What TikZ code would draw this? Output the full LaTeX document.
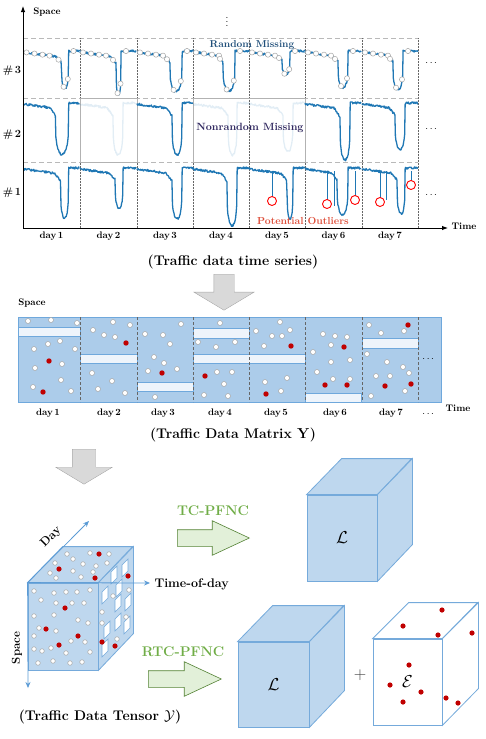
\documentclass[tikz,border=0pt]{standalone}
\usepackage{amsmath}
\usepackage{amssymb}
\usepackage{xcolor}
\usepackage{tikz}
\usetikzlibrary{shapes, arrows.meta, positioning, calc}

\definecolor{seriesblue}{RGB}{31,119,180}
\definecolor{rmblue}{RGB}{31,78,121}
\definecolor{nrmpurple}{RGB}{48,40,95}
\definecolor{outred}{RGB}{222,80,60}
\definecolor{matfill}{RGB}{172,204,234}
\definecolor{matedge}{RGB}{111,168,220}
\definecolor{barfill}{RGB}{238,244,251}
\definecolor{cubefill}{RGB}{190,215,238}
\definecolor{cubeedge}{RGB}{117,170,219}
\definecolor{axisblue}{RGB}{91,155,213}
\definecolor{dotred}{RGB}{192,0,0}
\definecolor{pfncgreen}{RGB}{112,173,71}
\definecolor{arrgreen}{RGB}{84,130,53}
\definecolor{arrgreenfill}{RGB}{226,240,217}

% one day of speed data: style, x0, level, dip start, dip end, dip depth
\newcommand{\tsday}[6]{%
  \draw[#1] plot[domain=0:56, samples=110] ({#2+\x}, {#3 + (\x<#4-6 ? 0.14*\x : (\x<#4 ? 0.14*\x + 0.025*#6*(\x-#4+6) : (\x<#5 ? 0.14*#4 + 0.15*#6 + 0.85*#6*(abs(sin(180*(\x-#4)/(#5-#4)))+0.001)^0.25 : -1))) + 1.1*rand});
}
% missing points on one day: x0, level, dip start, dip end, dip depth
\newcommand{\missday}[5]{%
  \foreach \u in {3,11,19,26} {\filldraw[miss] ({#1+\u},{#2+0.14*\u}) circle[radius=2.6pt];}
  \filldraw[miss] ({#1+#3-3},{#2+0.14*#3+0.075*#5}) circle[radius=2.6pt];
  \filldraw[miss] ({#1+#3+0.3*(#4-#3)},{#2+0.14*#3+0.95*#5}) circle[radius=2.6pt];
  \filldraw[miss] ({#1+#4-0.1*(#4-#3)},{#2+0.14*#3+0.7*#5}) circle[radius=2.6pt];
  \filldraw[miss] ({#1+#4+5},{#2-1}) circle[radius=2.6pt];
}

\begin{document}
\begin{tikzpicture}[x=1pt, y=-1pt,
  series/.style={seriesblue, line width=1.3pt, line join=round},
  faded/.style={series, opacity=0.13},
  miss/.style={fill=white, draw=gray!70, line width=0.5pt},
  reddot/.style={fill=dotred},
  lab/.style={font=\bfseries\fontsize{9.5}{11}\selectfont},
  captext/.style={font=\bfseries\fontsize{14}{16}\selectfont},
  rowlab/.style={font=\bfseries\fontsize{11}{13}\selectfont},
  guide/.style={gray!55, dash pattern=on 5pt off 3pt, line width=0.8pt},
  daysep/.style={black!60, densely dotted, line width=0.5pt},
  axis/.style={line width=0.9pt, -{Latex[length=6pt, width=4.5pt]}},
  bar/.style={fill=barfill, draw=matedge, line width=0.8pt},
  face/.style={fill=cubefill, draw=cubeedge, line width=0.8pt, inner sep=0pt},
  hole/.style={fill=white, draw=cubeedge, line width=0.6pt},
  tenaxis/.style={axisblue, line width=0.8pt, -{Stealth[length=6pt, width=5pt]}},
  bigarrow/.style={single arrow, draw=gray!70, fill=gray!30, inner xsep=0pt, rotate=-90, anchor=tail, single arrow tip angle=118},
  greenarrow/.style={single arrow, draw=arrgreen, fill=arrgreenfill, inner xsep=0pt, inner ysep=8pt, line width=0.6pt, anchor=tail, single arrow tip angle=50, single arrow head extend=9pt},
  pfnc/.style={pfncgreen, font=\bfseries\fontsize{14}{16}\selectfont},
]
\useasboundingbox (0,0) rectangle (485,739);
\pgfmathsetseed{7}

% ---------- time series panel ----------
\foreach \yy in {38,98,162} {\draw[guide] (23,\yy) -- (418,\yy);}
\foreach \xx in {80,137,193,249,305,362,418} {\draw[daysep] (\xx,38) -- (\xx,228);}
\draw[gray!60, line width=0.5pt] (80,98) rectangle (137,162);
\draw[gray!60, line width=0.5pt] (193,98) rectangle (305,162);

% row #3
\tsday{series}{23.5}{52}{38}{45}{31}
\tsday{series}{80}{52}{36}{41}{38}
\tsday{series}{137}{52}{33}{45}{35}
\tsday{series}{193}{52}{30}{42}{35}
\tsday{series}{249}{52}{33}{41}{18}
\tsday{series}{305}{52}{33}{43}{31}
\tsday{series}{362}{52}{31}{41}{33}
\missday{23.5}{52}{38}{45}{31}
\missday{80}{52}{36}{41}{38}
\missday{137}{52}{33}{45}{35}
\missday{193}{52}{30}{42}{35}
\missday{249}{52}{33}{41}{18}
\missday{305}{52}{33}{43}{31}
\missday{362}{52}{31}{41}{33}
% row #2
\tsday{series}{23.5}{104}{32}{45}{46}
\tsday{faded}{80}{104}{33}{43}{46}
\tsday{series}{137}{104}{35}{45}{46}
\tsday{faded}{193}{104}{35}{44}{46}
\tsday{faded}{249}{104}{34}{44}{43}
\tsday{series}{305}{104}{35}{45}{51}
\tsday{series}{362}{104}{33}{43}{41}
% row #1
\tsday{series}{23.5}{169}{37}{45}{44}
\tsday{series}{80}{169}{35}{43}{34}
\tsday{series}{137}{169}{35}{45}{45}
\tsday{series}{193}{169}{34}{44}{52}
\tsday{series}{249}{169}{38}{44}{45}
\tsday{series}{305}{169}{32}{43}{41}
\tsday{series}{362}{169}{35}{43}{40}
\foreach \ox/\oy in {272/201, 327/204, 355/200, 380/202, 411/185} {
  \draw[series, line width=1pt] (\ox,171) -- (\ox,\oy-4);
  \draw[red, line width=0.9pt] (\ox,\oy) circle[radius=4.5pt];
}
\draw[series, line width=1pt] (334,171) -- (334,206);
\draw[series, line width=1pt] (386,171) -- (386,200);

\coordinate (O) at (23,228);
\coordinate (ytop) at (23,6);
\coordinate (xend) at (448,228);
\draw[axis] (O) -- (ytop);
\draw[axis] (O) -- (xend);
\node[lab] (tsspace) at (47,12) {Space};
\node[lab] (tstime) at (464,226) {Time};
\node (tsvdots) at (227,19) {$\vdots$};
\node[rowlab] (row3) at (12,71) {\#\,3};
\node[rowlab] (row2) at (12,135) {\#\,2};
\node[rowlab] (row1) at (12,193) {\#\,1};
\foreach \yy in {63,129,195} {\node at (432,\yy) {$\cdots$};}
\foreach \d/\xx in {1/51.5, 2/108.5, 3/165, 4/221, 5/277, 6/333.5, 7/390} {\node[lab] (tsday\d) at (\xx,236) {day\,\d};}
\node[rmblue, font=\bfseries\fontsize{10}{12}\selectfont] (rmiss) at (252,45) {Random Missing};
\node[nrmpurple, font=\bfseries\fontsize{10.5}{12}\selectfont] (nrmiss) at (250,128) {Nonrandom Missing};
\node[outred, font=\bfseries\fontsize{10.2}{12}\selectfont] (outl) at (303,221) {Potential Outliers};
\node[captext] (tscap) at (233,262) {(Traffic data time series)};

\node[bigarrow, minimum height=36pt, inner ysep=10pt, single arrow head extend=20pt] (arrow1) at (224,274) {};

% ---------- matrix ----------
\node[lab] (matspace) at (32,303) {Space};
\node[fill=matfill, draw=matedge, line width=0.8pt, minimum width=423pt, minimum height=85pt, anchor=north west, inner sep=0pt] (Ymat) at (18,317) {};
\draw[bar] (18,327) rectangle (80,336);
\draw[bar] (80,354) rectangle (137,363);
\draw[bar] (137,382) rectangle (193,391);
\draw[bar] (193,328) rectangle (249,338);
\draw[bar] (193,354) rectangle (305,363);
\draw[bar] (305,393) rectangle (361,402);
\draw[bar] (362,338) rectangle (418,348);
\foreach \xx in {80,137,193,249,305,362,418} {\draw[black!60, densely dashed, line width=0.5pt] (\xx,317) -- (\xx,402);}
\foreach \px/\py in {28/321, 51/320, 77/323, 34/349, 48/344, 60/341, 75/349, 35/368, 62/364, 61/380, 33/387, 71/391,
  113/322, 130/325, 93/330, 104/335, 115/337, 92/373, 112/381, 98/389, 125/393,
  181/324, 145/334, 163/335, 170/344, 154/357, 164/363, 148/371, 177/369, 155/397,
  220/323, 198/342, 216/347, 235/342, 217/372, 232/372, 224/384, 204/395, 228/396,
  280/322, 256/331, 272/336, 282/336, 290/330, 264/346, 287/378, 265/382, 281/391,
  323/334, 335/336, 347/337, 313/352, 331/345, 350/360, 331/362, 317/372, 333/379, 350/379,
  369/325, 381/333, 404/331, 367/354, 387/362, 403/367, 376/376, 390/376, 409/373, 405/391, 371/396}
  {\filldraw[miss] (\px,\py) circle[radius=2.5pt];}
\foreach \px/\py in {49/361, 43/392, 126/343, 162/373, 205/376, 291/346, 266/394, 344/347, 325/385, 347/385, 408/325, 385/386, 411/384}
  {\fill[reddot] (\px,\py) circle[radius=2.7pt];}
\node (matdots) at (429,359) {$\cdots$};
\foreach \d/\xx in {1/48, 2/109, 3/163, 4/220, 5/276, 6/335, 7/391} {\node[lab] (matday\d) at (\xx,413) {day\,\d};}
\node (matdots2) at (429,414) {$\cdots$};
\node[lab] (mattime) at (458,408) {Time};
\node[captext] (matcap) at (233,435) {(Traffic Data Matrix $\mathbf{Y}$)};

\node[bigarrow, minimum height=35pt, inner ysep=11.5pt, single arrow head extend=16.5pt] (arrow2) at (84,449) {};

% ---------- tensor ----------
\node[face, minimum width=70pt, minimum height=87pt] (Yfront) at (63,626.5) {};
\draw[face] (Yfront.north west) -- ++(35,-36) -- ++(70,0) -- (Yfront.north east) -- cycle;
\draw[face] (Yfront.north east) -- ++(35,-36) -- ++(0,87) -- (Yfront.south east) -- cycle;
\foreach \px/\py in {114/575, 125/568, 119/588, 105/595, 118/603, 128/602, 107/630, 118/622, 127/625, 105/648}
  {\filldraw[hole, shift={(\px,\py)}] (-3,-3) -- (3,-9) -- (3,3) -- (-3,9) -- cycle;}
\foreach \px/\py in {34/591, 41/600, 54/593, 66/592, 77/592, 90/590, 56/603, 72/603, 84/603, 34/616, 54/615, 78/620, 88/623,
  39/628, 56/631, 34/636, 71/641, 85/642, 34/649, 42/651, 51/648, 66/653, 90/652, 38/663, 53/661, 70/663, 82/662,
  67/554, 90/553, 109/554, 55/563, 73/559, 83/564, 96/566, 107/563, 50/573, 56/578, 73/571, 81/577, 93/572,
  129/590, 113/596, 102/612, 126/617, 102/623, 117/639}
  {\filldraw[miss] (\px,\py) circle[radius=2.3pt];}
\foreach \px/\py in {65/608, 46/629, 78/636, 59/645, 99/554, 59/569, 95/578, 128/576, 102/642, 115/646}
  {\fill[reddot] (\px,\py) circle[radius=2.6pt];}
\coordinate (dayend) at (89,521);
\coordinate (todend) at (150,583);
\coordinate (spend) at (28,688);
\draw[tenaxis] (Yfront.north west) -- (dayend);
\draw[tenaxis] (Yfront.north west) -- (todend);
\draw[tenaxis] (Yfront.north west) -- (spend);
\node[font=\bfseries\fontsize{12}{14}\selectfont, rotate=45] (daylab) at (51,537) {Day};
\node[font=\bfseries\fontsize{12.5}{14}\selectfont, anchor=west] (todlab) at (151,584) {Time-of-day};
\node[font=\bfseries\fontsize{11.5}{14}\selectfont, rotate=90] (spacelab) at (17,648) {Space};
\node[captext] (tencap) at (100,717) {(Traffic Data Tensor $\mathcal{Y}$)};

% ---------- completion ----------
\node[greenarrow, minimum height=72pt] (tcarrow) at (177,538) {};
\node[pfnc] (tclab) at (213,511) {TC-PFNC};
\node[greenarrow, minimum height=73pt] (rtcarrow) at (148,679) {};
\node[pfnc] (rtclab) at (183,652) {RTC-PFNC};

\node[face, minimum width=70pt, minimum height=86pt, font=\fontsize{17}{18}\selectfont] (Ltop) at (342,538) {$\mathcal{L}$};
\draw[face] (Ltop.north west) -- ++(35,-36) -- ++(70,0) -- (Ltop.north east) -- cycle;
\draw[face] (Ltop.north east) -- ++(35,-36) -- ++(0,86) -- (Ltop.south east) -- cycle;

\node[face, minimum width=71pt, minimum height=85pt, font=\fontsize{17}{18}\selectfont] (Lbot) at (273.5,684.5) {$\mathcal{L}$};
\draw[face] (Lbot.north west) -- ++(35,-36) -- ++(71,0) -- (Lbot.north east) -- cycle;
\draw[face] (Lbot.north east) -- ++(35,-36) -- ++(0,85) -- (Lbot.south east) -- cycle;

\node[font=\fontsize{16}{18}\selectfont, text=black!75] (plus) at (360,675) {$+$};

\node[face, fill=white, minimum width=69pt, minimum height=86pt, font=\fontsize{17}{18}\selectfont] (Ecube) at (407.5,682) {$\mathcal{E}$};
\draw[face, fill=white] (Ecube.north west) -- ++(36,-36) -- ++(69,0) -- (Ecube.north east) -- cycle;
\draw[face, fill=white] (Ecube.north east) -- ++(36,-36) -- ++(0,86) -- (Ecube.south east) -- cycle;
\foreach \px/\py in {403/626, 442/610, 438/635, 472/633, 409/665, 390/685, 421/692, 403/702, 446/698, 458/703}
  {\fill[reddot] (\px,\py) circle[radius=2.6pt];}
\end{tikzpicture}
\end{document}
